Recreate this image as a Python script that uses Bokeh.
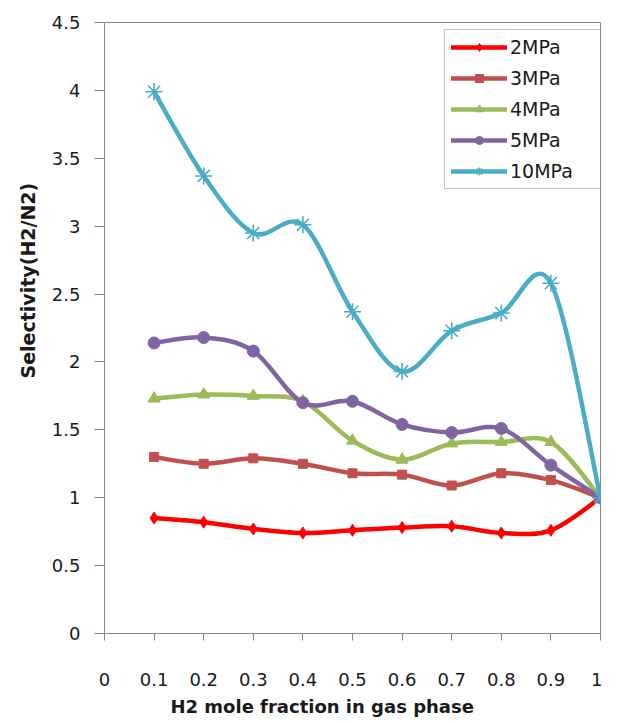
from bokeh.plotting import figure
from bokeh.models import Range1d, FixedTicker, Legend, LegendItem, Title
from bokeh.embed import file_html
from bokeh.resources import INLINE

# ---- data ----
h2_fraction = [0.1, 0.2, 0.3, 0.4, 0.5, 0.6, 0.7, 0.8, 0.9, 1.0]
sel_2mpa = [0.85, 0.82, 0.77, 0.74, 0.76, 0.78, 0.79, 0.74, 0.76, 1.0]
sel_3mpa = [1.30, 1.25, 1.29, 1.25, 1.18, 1.17, 1.09, 1.18, 1.13, 1.0]
sel_4mpa = [1.73, 1.76, 1.75, 1.71, 1.42, 1.28, 1.40, 1.41, 1.41, 1.0]
sel_5mpa = [2.14, 2.18, 2.08, 1.70, 1.71, 1.54, 1.48, 1.51, 1.24, 1.0]
sel_10mpa = [3.99, 3.37, 2.95, 3.01, 2.37, 1.93, 2.23, 2.36, 2.58, 1.0]

series_names = ["2MPa", "3MPa", "4MPa", "5MPa", "10MPa"]
x_ticks = [0.0, 0.1, 0.2, 0.3, 0.4, 0.5, 0.6, 0.7, 0.8, 0.9, 1.0]
x_tick_labels = ["0", "0.1", "0.2", "0.3", "0.4", "0.5", "0.6", "0.7", "0.8", "0.9", "1"]
y_ticks = [0.0, 0.5, 1.0, 1.5, 2.0, 2.5, 3.0, 3.5, 4.0, 4.5]
y_tick_labels = ["0", "0.5", "1", "1.5", "2", "2.5", "3", "3.5", "4", "4.5"]
x_title = "H2 mole fraction  in gas phase"
y_title = "Selectivity(H2/N2)"

# ---- styles ----
colors = ["#FF0000", "#C0504D", "#9BBB59", "#8064A2", "#4BACC6"]
markers = ["diamond", "square", "triangle", "circle", "asterisk"]
msizes = [12, 9, 12, 12, 17]
series = [sel_2mpa, sel_3mpa, sel_4mpa, sel_5mpa, sel_10mpa]

AXIS_GREY = "#868686"
TEXT = "#1a1a1a"
FONT = "DejaVu Sans"
NAN = float("nan")


def smooth_controls(xs, ys, t=1.0 / 6.0):
    """Excel-like smoothing: Catmull-Rom control points for each segment."""
    n = len(xs)
    out = {k: [] for k in ("x0", "y0", "x1", "y1", "cx0", "cy0", "cx1", "cy1")}
    for i in range(n - 1):
        pa = max(i - 1, 0)
        pd = min(i + 2, n - 1)
        out["x0"].append(xs[i]); out["y0"].append(ys[i])
        out["x1"].append(xs[i + 1]); out["y1"].append(ys[i + 1])
        out["cx0"].append(xs[i] + (xs[i + 1] - xs[pa]) * t)
        out["cy0"].append(ys[i] + (ys[i + 1] - ys[pa]) * t)
        out["cx1"].append(xs[i + 1] - (xs[pd] - xs[i]) * t)
        out["cy1"].append(ys[i + 1] - (ys[pd] - ys[i]) * t)
    return out


p = figure(
    width=602, height=722,
    x_range=Range1d(0, 1), y_range=Range1d(0, 4.5),
    output_backend="svg", toolbar_location=None,
    min_border_left=104, min_border_right=2,
    min_border_top=22, min_border_bottom=89,
)
p.xgrid.visible = False
p.ygrid.visible = False
p.outline_line_color = AXIS_GREY
p.outline_line_width = 1
p.background_fill_color = "white"
p.border_fill_color = "white"

for ax in (p.xaxis[0], p.yaxis[0]):
    ax.axis_line_color = AXIS_GREY
    ax.major_tick_line_color = AXIS_GREY
    ax.minor_tick_line_color = None
    ax.major_tick_in = 0
    ax.major_label_text_font = FONT
    ax.major_label_text_font_size = "18px"
    ax.major_label_text_color = TEXT

p.xaxis.ticker = FixedTicker(ticks=x_ticks)
p.xaxis.major_label_overrides = {v: s for v, s in zip(x_ticks, x_tick_labels)}
p.xaxis.major_tick_out = 7
p.xaxis.major_label_standoff = 32

p.yaxis.ticker = FixedTicker(ticks=y_ticks)
p.yaxis.major_label_overrides = {v: s for v, s in zip(y_ticks, y_tick_labels)}
p.yaxis.major_tick_out = 10
p.yaxis.major_label_standoff = 14

items = []
for name, ys, c, m, ms in zip(series_names, series, colors, markers, msizes):
    ctrl = smooth_controls(h2_fraction, ys)
    p.bezier(x0=ctrl["x0"], y0=ctrl["y0"], x1=ctrl["x1"], y1=ctrl["y1"],
             cx0=ctrl["cx0"], cy0=ctrl["cy0"], cx1=ctrl["cx1"], cy1=ctrl["cy1"],
             line_color=c, line_width=4.5, line_cap="round")
    # legend-only line swatch (a single NaN point draws nothing on the plot)
    legend_line = p.line(x=[NAN], y=[NAN], line_color=c, line_width=4.5,
                         line_cap="round")
    if m == "asterisk":
        sc = p.scatter(x=h2_fraction, y=ys, marker=m, size=ms, line_color=c,
                       line_width=1.6)
    else:
        sc = p.scatter(x=h2_fraction, y=ys, marker=m, size=ms, fill_color=c,
                       line_color=c)
    items.append(LegendItem(label=name, renderers=[legend_line, sc]))

legend = Legend(
    items=items, location=(340, 444),
    border_line_color=AXIS_GREY, border_line_width=1,
    background_fill_color="white", background_fill_alpha=1,
    label_text_font=FONT, label_text_font_size="19px", label_text_color=TEXT,
    glyph_width=56, glyph_height=20, label_height=20, label_width=85,
    label_standoff=3, spacing=9, padding=6, margin=0,
)
p.add_layout(legend)

p.add_layout(Title(text=x_title, align="left", offset=66, standoff=10,
                   text_font=FONT, text_font_style="bold",
                   text_font_size="18px", text_color=TEXT), "below")
p.add_layout(Title(text=y_title, align="left", offset=255, standoff=20,
                   text_font=FONT, text_font_style="bold",
                   text_font_size="19px", text_color=TEXT), "left")

open("out.html", "w").write(file_html(p, INLINE))
